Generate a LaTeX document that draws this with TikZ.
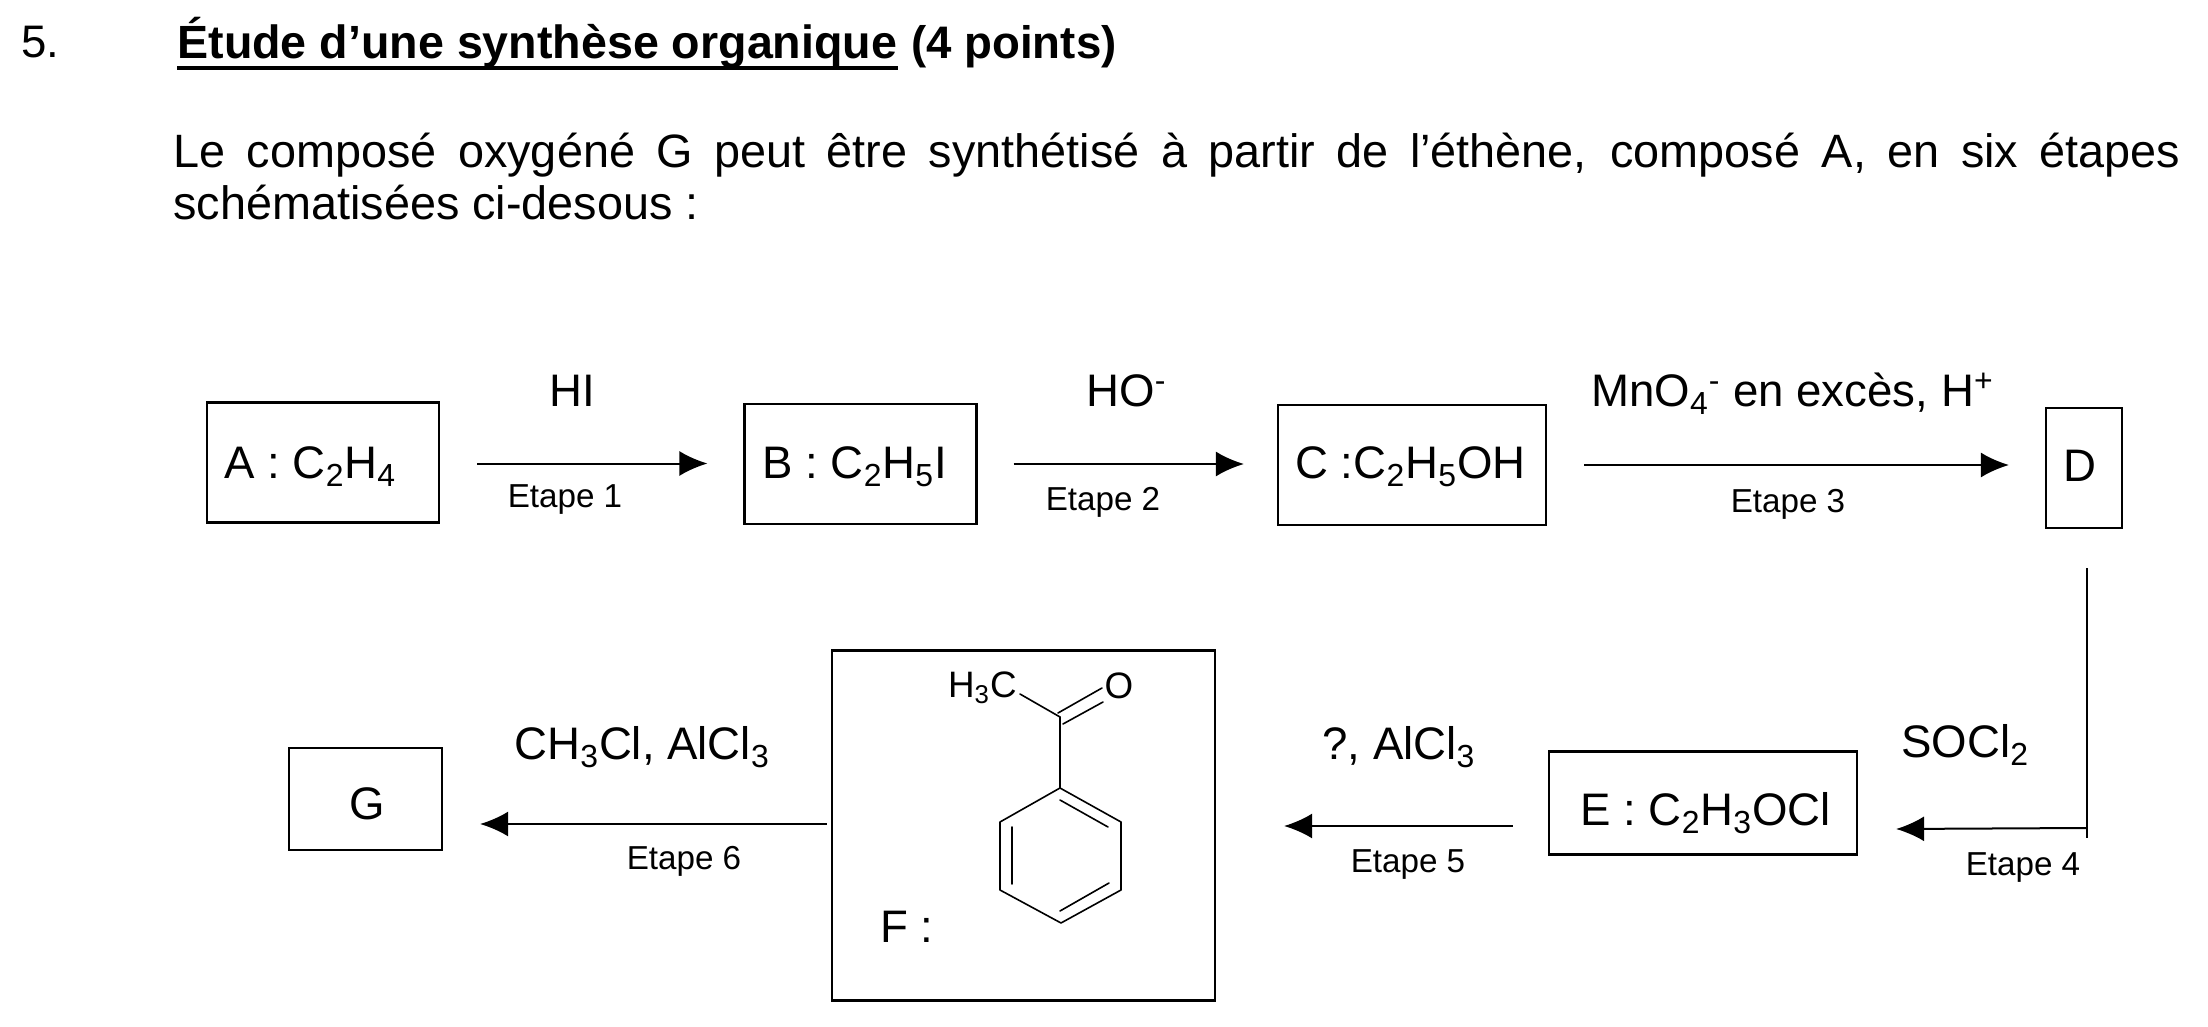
\documentclass[tikz,border=0pt]{standalone}
\usepackage{fontspec}
\setmainfont{Liberation Sans}
\usetikzlibrary{arrows.meta}
\newcommand{\fs}[1]{\fontsize{#1}{#1}\selectfont}
\tikzset{
  x=0.5pt,y=-0.5pt,
  box/.style={draw=black,line width=1.1pt,inner sep=0pt,anchor=center,font=\fs{22.8}},
  txt/.style={inner sep=0pt,anchor=base west,font=\fs{22.8}},
  etape/.style={inner sep=0pt,anchor=base,font=\fs{16.6}},
  arr/.style={line width=1pt,-{Latex[length=14pt,width=12.5pt]}},
  bond/.style={line width=0.8pt,line cap=round,line join=round},
}
\begin{document}
\begin{tikzpicture}
\fill[white] (0,0) rectangle (2208,1027);
\useasboundingbox (0,0) rectangle (2208,1027);
% heading
\node[txt] (num) at (21,58) {5.};
\node[txt,font=\fs{23.3}\bfseries] (title) at (177,59) {Étude d’une synthèse organique};
\node[txt,font=\fs{22.8}\bfseries] (pts) at (911,59) {(4 points)};
\draw[line width=1.6pt] ([yshift=-4.5pt]title.base west) -- ([yshift=-4.5pt]title.base east);
\node[txt,font=\fs{23.4}] (l1) at (173,168) {\makebox[1003.5pt][s]{Le composé oxygéné G peut être synthétisé à partir de l’éthène, composé A, en six étapes}};
\node[txt,font=\fs{23.4}] (l2) at (173,220) {schématisées ci-desous :};
% boxes
\node[box,minimum width=116pt,minimum height=60pt] (A) at (323,462.5) {};
\node[txt] (Atxt) at (224,479) {A : C\textsubscript{2}H\textsubscript{4}};
\node[box,minimum width=116pt,minimum height=60pt] (B) at (860.5,464) {};
\node[txt] (Btxt) at (762,479) {B : C\textsubscript{2}H\textsubscript{5}I};
\node[box,minimum width=134pt,minimum height=60pt] (C) at (1412,465) {};
\node[txt] (Ctxt) at (1295,479) {C :C\textsubscript{2}H\textsubscript{5}OH};
\node[box,minimum width=38pt,minimum height=60pt] (D) at (2084,468) {};
\node[txt] (Dtxt) at (2063,481) {D};
\node[box,minimum width=154pt,minimum height=51.5pt] (E) at (1703,803) {};
\node[txt] (Etxt) at (1580,825) {E : C\textsubscript{2}H\textsubscript{3}OCl};
\node[box,minimum width=191.5pt,minimum height=175pt] (F) at (1023.5,825.5) {};
\node[txt] (Ftxt) at (880,942) {F :};
\node[box,minimum width=76.5pt,minimum height=51pt] (G) at (365.5,799) {};
\node[txt] (Gtxt) at (349,819) {G};
% reagents
\node[txt] (r1) at (549,407) {HI};
\node[txt] (r2) at (1086,407) {HO\textsuperscript{-}};
\node[txt] (r3) at (1591,407) {MnO\textsubscript{4}\textsuperscript{-} en excès, H\textsuperscript{+}};
\node[txt] (r4) at (1901,757) {SOCl\textsubscript{2}};
\node[txt] (r5) at (1322,759) {?, AlCl\textsubscript{3}};
\node[txt] (r6) at (514,759) {CH\textsubscript{3}Cl, AlCl\textsubscript{3}};
% step labels
\node[etape] (e1) at (565,508) {Etape 1};
\node[etape] (e2) at (1103,510) {Etape 2};
\node[etape] (e3) at (1788,512) {Etape 3};
\node[etape] (e4) at (2023,875) {Etape 4};
\node[etape] (e5) at (1408,872) {Etape 5};
\node[etape] (e6) at (684,869) {Etape 6};
% arrows
\draw[arr] ([xshift=18.5pt,yshift=-0.5pt]A.east) -- ([xshift=-18pt,yshift=-0.5pt]B.west |- A.east);
\draw[arr] ([xshift=18pt]B.east) -- ([xshift=-16.5pt]C.west |- B.east);
\draw[arr] ([xshift=18.5pt]C.east) -- ([xshift=-18pt]D.west |- C.east);
\coordinate (dtop) at ([xshift=1.5pt,yshift=-19.5pt]D.south);
\coordinate (dbot) at (dtop |- 0,838);
\coordinate (elbow) at (dtop |- 0,828);
\draw[line width=0.9pt] (dtop) -- (dbot);
\draw[arr] (elbow) -- ([xshift=19pt,yshift=-0.5pt]E.east |- elbow);
\draw[arr] ([xshift=-17.5pt]E.west |- 0,826) -- ([xshift=34pt]F.east |- 0,826);
\draw[arr] ([xshift=-2pt]F.west |- 0,824) -- ([xshift=18.5pt]G.east |- 0,824);
% molecule F
\coordinate (r1c) at (1060,788);
\coordinate (r2c) at (1121,822);
\coordinate (r3c) at (1121,890);
\coordinate (r4c) at (1061,923);
\coordinate (r5c) at (1000,890);
\coordinate (r6c) at (1000,822);
\coordinate (co) at (1060,717);
\draw[bond] (r1c) -- (r2c) -- (r3c) -- (r4c) -- (r5c) -- (r6c) -- cycle;
\draw[bond] (1060,800) -- (1108,827);
\draw[bond] (1109,883) -- (1060,911);
\draw[bond] (1012,827) -- (1012,884);
\draw[bond] (r1c) -- (co);
\node[inner sep=0pt,anchor=base east,font=\fs{18.4}] (ch3) at (1017,697) {H\textsubscript{3}C};
\node[inner sep=0pt,anchor=center,font=\fs{18.4}] (oxy) at (1119,686) {O};
\draw[bond] (co) -- (1020,694);
\draw[bond] (1058,713) -- (1102,688);
\draw[bond] (1063,724) -- (1103,702);
\end{tikzpicture}
\end{document}
